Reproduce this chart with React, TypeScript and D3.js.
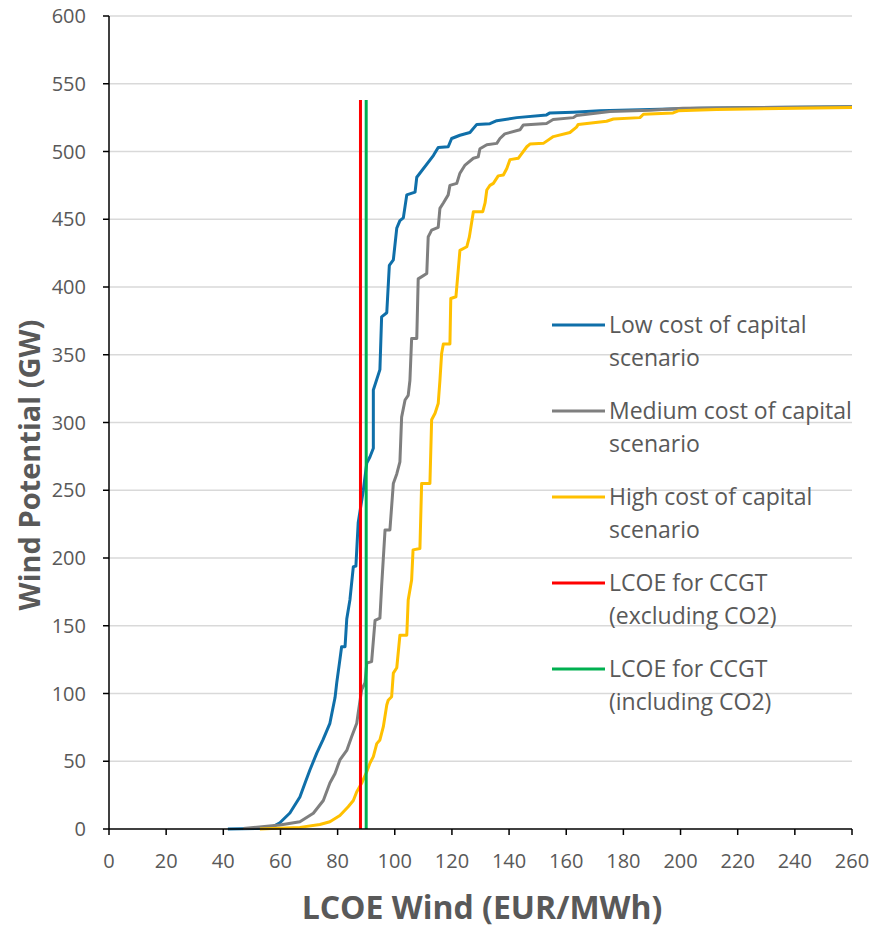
import React from "react";
import * as d3 from "d3";

type P = [number, number];

const lowCost: P[] = [
  [41.6, 0], [56.3, 0.5], [59.8, 4.6], [63.3, 11.8], [66.8, 23.6], [68.6, 34], [70.3, 43.5],
  [72.7, 56], [74.9, 66], [77.3, 78], [79.1, 97], [79.7, 108], [80.8, 125], [81.4, 134.5],
  [82.6, 134.5], [83.2, 155], [84.3, 169], [85.5, 193.6], [86.4, 194], [87.2, 226], [89.0, 250],
  [90.2, 270], [91.3, 274.5], [92.5, 281], [92.5, 324], [94.8, 339], [95.4, 378], [97.2, 381],
  [98.1, 416], [99.5, 420], [100.7, 443.5], [101.8, 449], [103.0, 451], [104.2, 468], [107.1, 470],
  [107.7, 481], [113.5, 497], [115.2, 503], [118.7, 503.5], [119.9, 509.6], [122.8, 512],
  [126.3, 514], [128.7, 520], [133.3, 520.5], [135.7, 522.7], [142.7, 525], [153.1, 527],
  [154.3, 528.5], [162.4, 529], [171.8, 530], [206.8, 532], [260, 533],
];

const mediumCost: P[] = [
  [47.0, 0.3], [59.8, 3], [66.8, 5.4], [71.5, 11.6], [75.0, 21], [77.3, 34], [79.1, 41],
  [80.8, 51], [83.2, 58], [84.9, 68], [86.7, 78], [87.2, 85.6], [88.4, 102.6], [89.6, 108],
  [90.2, 122.5], [91.9, 123.5], [93.1, 154], [94.8, 155.6], [95.4, 179], [96.6, 220.7],
  [98.3, 220.7], [99.5, 255], [100.7, 262], [101.8, 271], [102.4, 304], [103.6, 316.6],
  [104.7, 320], [105.3, 331], [105.9, 362], [107.7, 362], [108.2, 406], [111.2, 410],
  [111.7, 437], [112.9, 442], [115.2, 444], [115.8, 458], [117.0, 462], [118.7, 468],
  [119.3, 475], [121.7, 476.5], [122.8, 484], [124.6, 490], [127.5, 495], [129.2, 496],
  [129.8, 502], [132.2, 505], [135.7, 506], [136.8, 509.6], [138.5, 513], [143.8, 516],
  [145.0, 519.6], [153.1, 520.7], [155.4, 523.6], [162.5, 525], [163.6, 526.6], [175.3, 529.5],
  [189.3, 530.5], [200.8, 532], [260, 533],
];

const highCost: P[] = [
  [52.8, 0], [66.8, 1.2], [73.8, 3.3], [77.3, 5.4], [80.8, 10], [83.7, 16.4], [85.5, 21],
  [86.7, 27.5], [88.4, 33.7], [90.2, 42.3], [91.3, 48.5], [92.5, 53.4], [93.7, 63], [94.8, 65.7],
  [96.0, 75.5], [97.2, 91.5], [97.7, 95], [98.9, 97.6], [99.5, 115], [100.7, 119], [101.8, 143],
  [104.2, 143], [104.7, 169], [105.9, 183.8], [106.4, 206], [108.8, 207], [109.4, 255],
  [112.3, 255], [112.9, 302], [114.1, 306.8], [115.2, 314], [115.8, 331], [116.4, 351],
  [117.0, 358], [119.3, 358], [119.6, 391.5], [121.4, 392.8], [122.8, 427], [125.2, 429.7],
  [126.1, 437], [127.5, 455.6], [130.8, 455.6], [131.6, 462], [132.2, 471.6], [133.3, 475],
  [134.5, 476.5], [136.2, 482], [138.0, 482.7], [139.2, 487.5], [140.3, 494], [143.2, 495],
  [146.2, 503.5], [147.3, 505.5], [152.0, 506], [155.5, 511], [161.3, 514], [163.6, 518],
  [164.2, 520], [174.1, 522.3], [176.5, 524], [185.8, 525], [187.0, 527.5], [197.4, 528.5],
  [199.2, 530], [212.6, 531], [260, 532.5],
];

const ccgtExcl = 88;
const ccgtIncl = 90;
const ccgtTop = 538;

const xTicks = d3.range(0, 261, 20);
const yTicks = d3.range(0, 601, 50);

const legendItems = [
  { lines: ["Low cost of capital", "scenario"], color: "#0f6fa9" },
  { lines: ["Medium cost of capital", "scenario"], color: "#7f7f7f" },
  { lines: ["High cost of capital", "scenario"], color: "#ffc000" },
  { lines: ["LCOE for CCGT", "(excluding CO2)"], color: "#ff0000" },
  { lines: ["LCOE for CCGT", "(including CO2)"], color: "#00b050" },
];

const W = 871;
const H = 930;
const left = 109;
const right = 852;
const top = 16;
const bottom = 829;
const font = "'Open Sans', 'DejaVu Sans', sans-serif";
const textColor = "#595959";

export default function App() {
  const x = d3.scaleLinear().domain([0, 260]).range([left, right]);
  const y = d3.scaleLinear().domain([0, 600]).range([bottom, top]);
  const line = d3
    .line<P>()
    .x((d) => x(d[0]))
    .y((d) => y(d[1]));

  const series = [
    { data: lowCost, color: legendItems[0].color },
    { data: mediumCost, color: legendItems[1].color },
    { data: highCost, color: legendItems[2].color },
  ];

  return (
    <svg
      width={W}
      height={H}
      style={{ position: "absolute", left: 0, top: 0, background: "#fff" }}
      fontFamily={font}
    >
      {yTicks.map((t) => (
        <g key={"y" + t}>
          {t > 0 && (
            <line x1={left} x2={right} y1={y(t)} y2={y(t)} stroke="#d9d9d9" strokeWidth={1.5} />
          )}
          <line x1={left - 6} x2={left} y1={y(t)} y2={y(t)} stroke="#000" strokeWidth={1.5} />
          <text x={86} y={y(t)} dy="0.35em" textAnchor="end" fontSize={20} fill={textColor}>
            {t}
          </text>
        </g>
      ))}
      {xTicks.map((t) => (
        <g key={"x" + t}>
          <line x1={x(t)} x2={x(t)} y1={bottom} y2={bottom + 6} stroke="#000" strokeWidth={1.5} />
          <text x={x(t)} y={868} textAnchor="middle" fontSize={20} fill={textColor}>
            {t}
          </text>
        </g>
      ))}
      {series.map((s, i) => (
        <path key={i} d={line(s.data) || ""} fill="none" stroke={s.color} strokeWidth={3} strokeLinejoin="round" />
      ))}
      <line x1={x(ccgtExcl)} x2={x(ccgtExcl)} y1={y(0)} y2={y(ccgtTop)} stroke="#ff0000" strokeWidth={3} />
      <line x1={x(ccgtIncl)} x2={x(ccgtIncl)} y1={y(0)} y2={y(ccgtTop)} stroke="#00b050" strokeWidth={3} />
      <line x1={left} x2={left} y1={top} y2={bottom} stroke="#000" strokeWidth={1.5} />
      <line x1={left} x2={right} y1={bottom} y2={bottom} stroke="#000" strokeWidth={1.5} />

      {legendItems.map((it, i) => {
        const cy = 325 + i * 86;
        return (
          <g key={"l" + i}>
            <line x1={552} x2={605} y1={cy} y2={cy} stroke={it.color} strokeWidth={3} />
            {it.lines.map((ln, j) => (
              <text key={j} x={609} y={cy + j * 33} dy="0.35em" fontSize={23} fill={textColor}>
                {ln}
              </text>
            ))}
          </g>
        );
      })}

      <text
        transform={`translate(40, 465) rotate(-90)`}
        textAnchor="middle"
        fontSize={29}
        fontWeight="bold"
        fill={textColor}
      >
        Wind Potential (GW)
      </text>
      <text x={482} y={919} textAnchor="middle" fontSize={32} fontWeight="bold" fill={textColor}>
        LCOE Wind (EUR/MWh)
      </text>
    </svg>
  );
}
